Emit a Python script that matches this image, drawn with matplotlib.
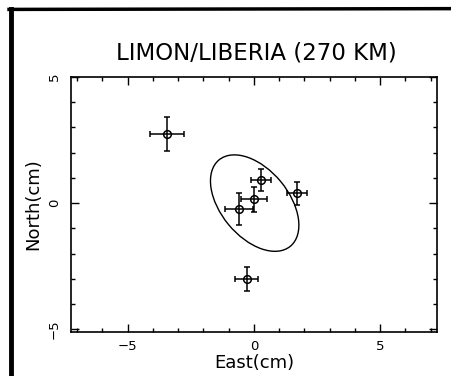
import matplotlib
matplotlib.use("Agg")
import matplotlib.pyplot as plt
from matplotlib.patches import Ellipse
from matplotlib.lines import Line2D
from matplotlib.ticker import MultipleLocator

# site velocities relative to mean (cm)
east = [-3.43, 0.29, 1.71, -0.01, -0.60, -0.29]
north = [2.75, 0.92, 0.39, 0.15, -0.23, -3.01]
east_err = [0.67, 0.40, 0.41, 0.51, 0.56, 0.47]
north_err = [0.68, 0.45, 0.46, 0.49, 0.62, 0.48]

# error ellipse: centre, full axes, angle (deg)
ell_center = (0.03, 0.0)
ell_width = 4.44
ell_height = 2.68
ell_angle = -50.5

title = "LIMON/LIBERIA (270 KM)"

fig = plt.figure(figsize=(4.51, 3.76), dpi=100)
ax = fig.add_axes([0.157, 0.118, 0.812, 0.677])

ax.errorbar(east, north, xerr=east_err, yerr=north_err, fmt="o", mfc="none",
            mec="black", ms=5.5, mew=1.1, ecolor="black", elinewidth=1.1,
            capsize=2, capthick=1.0, color="black")

ax.add_patch(Ellipse(ell_center, ell_width, ell_height, angle=ell_angle,
                     fill=False, ec="black", lw=1.0))

ax.set_xlim(-7.25, 7.25)
ax.set_ylim(-5.1, 5.0)
ax.xaxis.set_major_locator(MultipleLocator(5))
ax.xaxis.set_minor_locator(MultipleLocator(1))
ax.yaxis.set_major_locator(MultipleLocator(5))
ax.yaxis.set_minor_locator(MultipleLocator(1))
ax.tick_params(which="both", direction="in", top=True, right=True, labelsize=9.5)
ax.tick_params(which="major", length=6, width=1, pad=6)
ax.tick_params(which="minor", length=3, width=1)
ax.tick_params(axis="y", labelrotation=90, pad=7)
for lab in ax.get_yticklabels():
    lab.set_va("center")
for s in ax.spines.values():
    s.set_linewidth(1.2)

ax.set_xlabel("East(cm)", fontsize=13, labelpad=1)
ax.set_ylabel("North(cm)", fontsize=13, labelpad=4)
fig.text(0.568, 0.86, title, ha="center", va="center", fontsize=16.5)

# scanned page frame
fig.add_artist(Line2D([0.024, 0.024], [0.0, 0.977], color="black", lw=3.5,
                      transform=fig.transFigure))
fig.add_artist(Line2D([0.02, 1.0], [0.975, 0.977], color="black", lw=2.5,
                      transform=fig.transFigure))

fig.savefig("out.png", dpi=100)
